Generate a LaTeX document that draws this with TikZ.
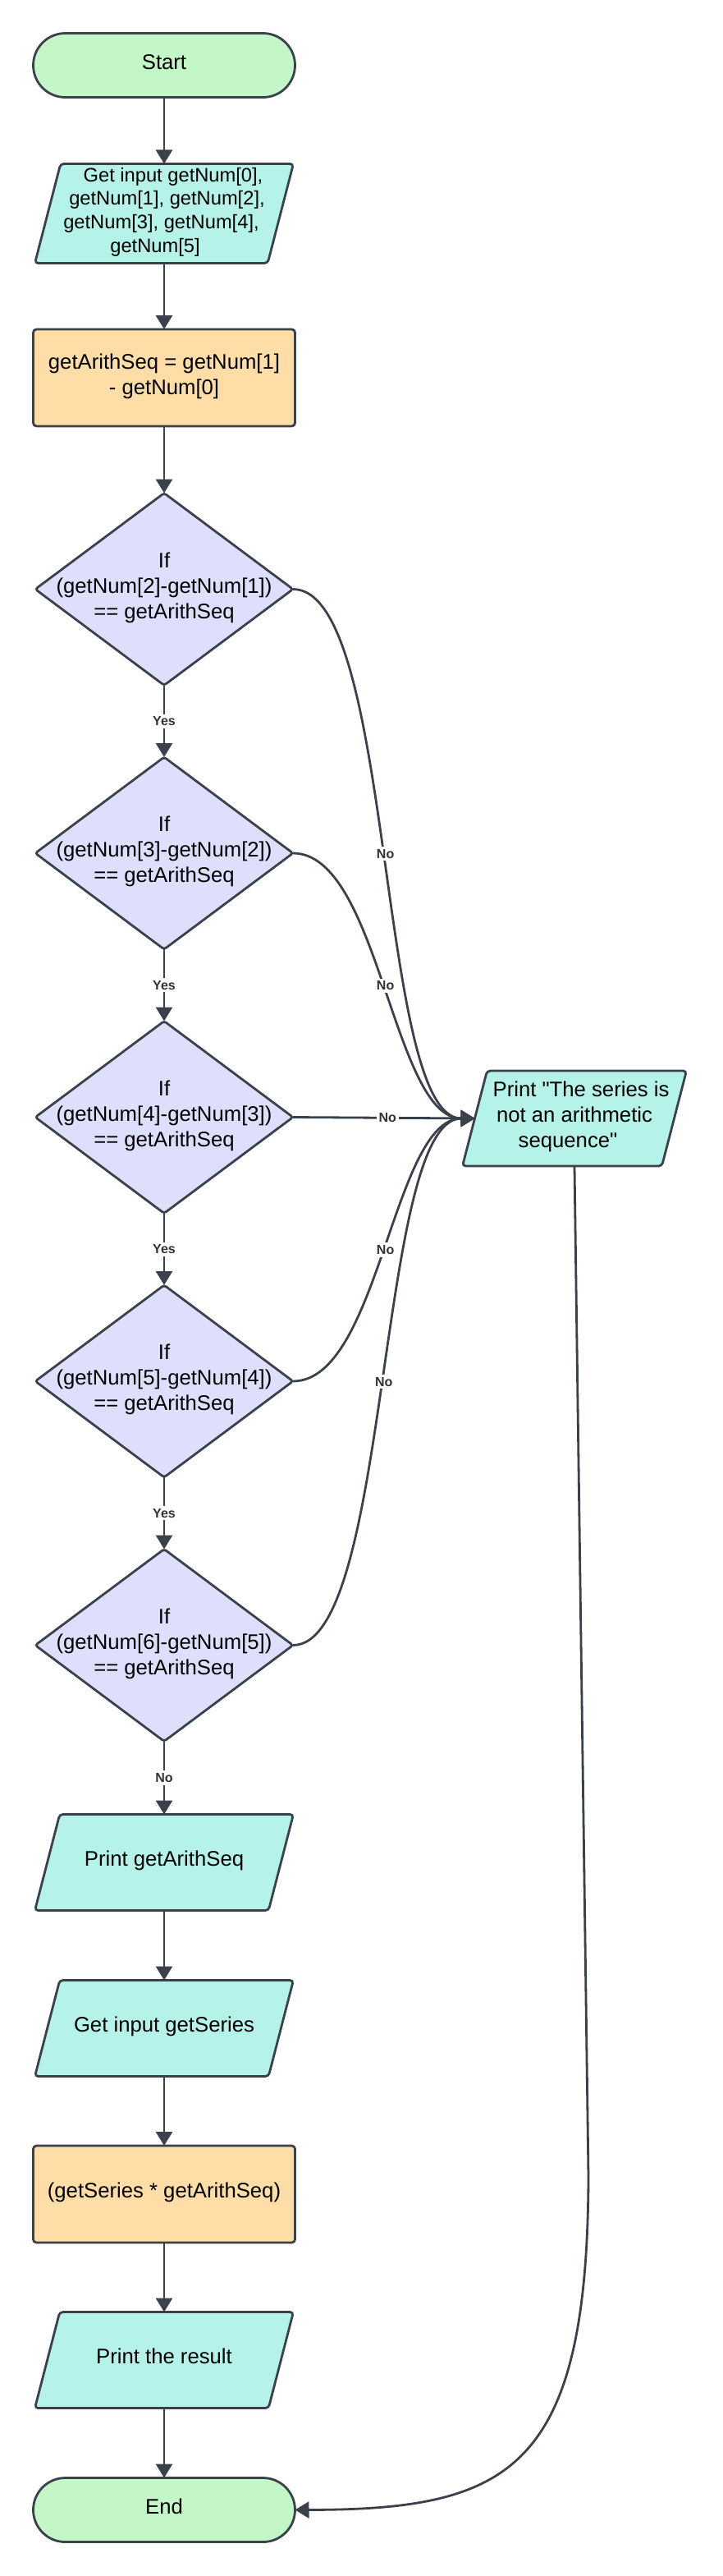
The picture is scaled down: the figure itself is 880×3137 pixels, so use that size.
\documentclass[tikz,border=0pt]{standalone}
\usepackage{fontspec}
\setmainfont{Liberation Sans}[Ligatures=TeXOff]
\usetikzlibrary{shapes.geometric,arrows.meta}
\definecolor{ln}{RGB}{58,65,74}
\definecolor{termc}{HTML}{C3F7C8}
\definecolor{ioc}{HTML}{B5F3EA}
\definecolor{procc}{HTML}{FEDDA6}
\definecolor{decc}{HTML}{DEDFFD}
\definecolor{lblc}{RGB}{51,51,51}
\newcommand\ctext[1]{\smash{\makebox[0pt]{\raisebox{-2.2pt}{\begin{tabular}{@{}c@{}}#1\end{tabular}}}}}
\newcommand\mainfs{\fontsize{12.85pt}{15.5pt}\selectfont}
\newcommand\smallfs{\fontsize{11.85pt}{14.3pt}\selectfont}
\tikzset{
  base/.style={draw=ln, line width=1.4pt, inner sep=0pt, outer sep=0pt, font=\mainfs, text=black},
  term/.style={base, rectangle, rounded corners=19.5pt, fill=termc, minimum width=159.5pt, minimum height=39pt},
  io/.style={base, trapezium, trapezium left angle=75.5, trapezium right angle=104.5,
     trapezium stretches body=true, rounded corners=2pt, fill=ioc, minimum width=157.5pt, inner ysep=29.25pt},
  proc/.style={base, rectangle, rounded corners=2pt, fill=procc, minimum width=159.5pt, minimum height=59pt},
  dec/.style={base, diamond, rounded corners=1.5pt, fill=decc, minimum width=157pt, minimum height=117pt},
  arr/.style={draw=ln, line width=1.4pt, -{Triangle[length=8.5pt,width=10pt]}},
  lbl/.style={fill=white, inner sep=1.5pt, font=\fontsize{8pt}{9.6pt}\selectfont\bfseries, text=lblc}
}
\begin{document}
\begin{tikzpicture}[x=0.5pt,y=-0.5pt]
\useasboundingbox (0,0) rectangle (880,3137);
\node[term] (start) at (200,79.5) {\ctext{Start}};
\node[io, inner ysep=30.25pt, font=\smallfs] (in) at (200,260) {\ctext{\hspace*{11pt}Get input getNum[0],\\ \hspace*{3.5pt}getNum[1], getNum[2],\\ getNum[3], getNum[4],\hspace*{3.5pt}\\ getNum[5]\hspace*{11pt}}};
\node[proc] (p1) at (200,460) {\ctext{getArithSeq = getNum[1]\\ - getNum[0]}};
\node[dec] (d1) at (200,717.5) {\ctext{If\\ (getNum[2]-getNum[1])\\ == getArithSeq}};
\node[dec] (d2) at (200,1039) {\ctext{If\\ (getNum[3]-getNum[2])\\ == getArithSeq}};
\node[dec] (d3) at (200,1360.5) {\ctext{If\\ (getNum[4]-getNum[3])\\ == getArithSeq}};
\node[dec] (d4) at (200,1682) {\ctext{If\\ (getNum[5]-getNum[4])\\ == getArithSeq}};
\node[dec] (d5) at (200,2003.5) {\ctext{If\\ (getNum[6]-getNum[5])\\ == getArithSeq}};
\node[io] (pa) at (200,2268) {\ctext{Print getArithSeq}};
\node[io] (gs) at (200,2470) {\ctext{Get input getSeries}};
\node[proc] (p2) at (200,2672) {\ctext{(getSeries * getArithSeq)}};
\node[io] (prr) at (200,2874) {\ctext{Print the result}};
\node[term] (stop) at (200,3056.5) {\ctext{End}};
\node[io, minimum width=136.5pt, inner ysep=29pt] (pr) at (700,1362) {\ctext{\hspace*{8pt}Print "The series is\\ not an arithmetic\\ sequence"\hspace*{8pt}}};
\coordinate (bend) at (717,2650);

\draw[arr] (start) -- (in);
\draw[arr] (in) -- (p1);
\draw[arr] (p1) -- (d1);
\draw[arr] (d1) -- node[lbl]{Yes} (d2);
\draw[arr] (d2) -- node[lbl]{Yes} (d3);
\draw[arr] (d3) -- node[lbl]{Yes} (d4);
\draw[arr] (d4) -- node[lbl]{Yes} (d5);
\draw[arr] (d5) -- node[lbl]{No} (pa);
\draw[arr] (pa) -- (gs);
\draw[arr] (gs) -- (p2);
\draw[arr] (p2) -- (prr);
\draw[arr] (prr) -- (stop);

\draw[arr] (d1.east) .. controls +(125,0) and +(-120,0) .. (pr.left side) node[lbl,pos=0.5]{No};
\draw[arr] (d2.east) .. controls +(105,0) and +(-100,0) .. (pr.left side) node[lbl,pos=0.5]{No};
\draw[arr] (d3.east) -- node[lbl,pos=0.52]{No} (pr.left side);
\draw[arr] (d4.east) .. controls +(105,0) and +(-100,0) .. (pr.left side) node[lbl,pos=0.5]{No};
\draw[arr] (d5.east) .. controls +(120,0) and +(-120,0) .. (pr.left side) node[lbl,pos=0.5]{No};
\draw[arr] (pr.south) -- (bend) .. controls (716,3010) and (620,3056) .. (stop.east);
\end{tikzpicture}
\end{document}
